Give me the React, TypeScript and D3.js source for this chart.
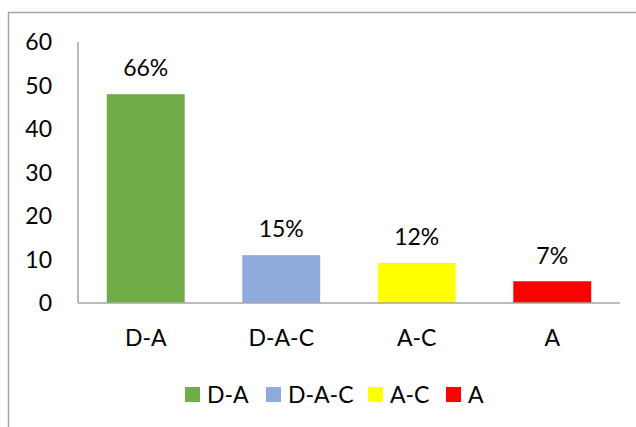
import React from "react";
import * as d3 from "d3";

const categories = ["D-A", "D-A-C", "A-C", "A"];
const values = [48, 11, 9.2, 5];
const pctLabels = ["66%", "15%", "12%", "7%"];
const colors = ["#70ad47", "#8faadc", "#ffff00", "#ff0000"];
const yTicks = [0, 10, 20, 30, 40, 50, 60];

const W = 636;
const H = 427;
const FONT = "Lato, 'Open Sans', sans-serif";
const FS = 23;

export default function App() {
  const x = d3.scaleBand<string>().domain(categories).range([78, 620]).paddingInner(0.425).paddingOuter(0.2125);
  const y = d3.scaleLinear().domain([0, 60]).range([303, 42]);
  const legendX = [185, 266, 368, 446];

  return (
    <svg width={W} height={H} style={{ position: "absolute", left: 0, top: 0, background: "#fff" }} fontFamily={FONT}>
      <rect x={8.5} y={12.5} width={700} height={500} fill="#fff" stroke="#a6a6a6" strokeWidth={1.5} />
      {yTicks.map((t) => (
        <text key={t} x={52} y={y(t)} dy="0.36em" textAnchor="end" fontSize={FS} fill="#000">
          {t}
        </text>
      ))}
      <line x1={78} x2={78} y1={42} y2={303} stroke="#a6a6a6" strokeWidth={1.5} />
      {categories.map((c, i) => (
        <g key={c}>
          <rect x={x(c)!} y={y(values[i])} width={x.bandwidth()} height={y(0) - y(values[i])} fill={colors[i]} />
          <text x={x(c)! + x.bandwidth() / 2} y={y(values[i]) - 26} dy="0.36em" textAnchor="middle" fontSize={FS} fill="#000">
            {pctLabels[i]}
          </text>
          <text x={x(c)! + x.bandwidth() / 2} y={338} dy="0.36em" textAnchor="middle" fontSize={FS} fill="#000">
            {c}
          </text>
        </g>
      ))}
      <line x1={78} x2={620} y1={303} y2={303} stroke="#a6a6a6" strokeWidth={1.5} />
      {categories.map((c, i) => (
        <g key={"lg" + c}>
          <rect x={legendX[i]} y={387} width={15} height={15} fill={colors[i]} />
          <text x={legendX[i] + 22} y={395} dy="0.36em" fontSize={FS} fill="#000">
            {c}
          </text>
        </g>
      ))}
    </svg>
  );
}
